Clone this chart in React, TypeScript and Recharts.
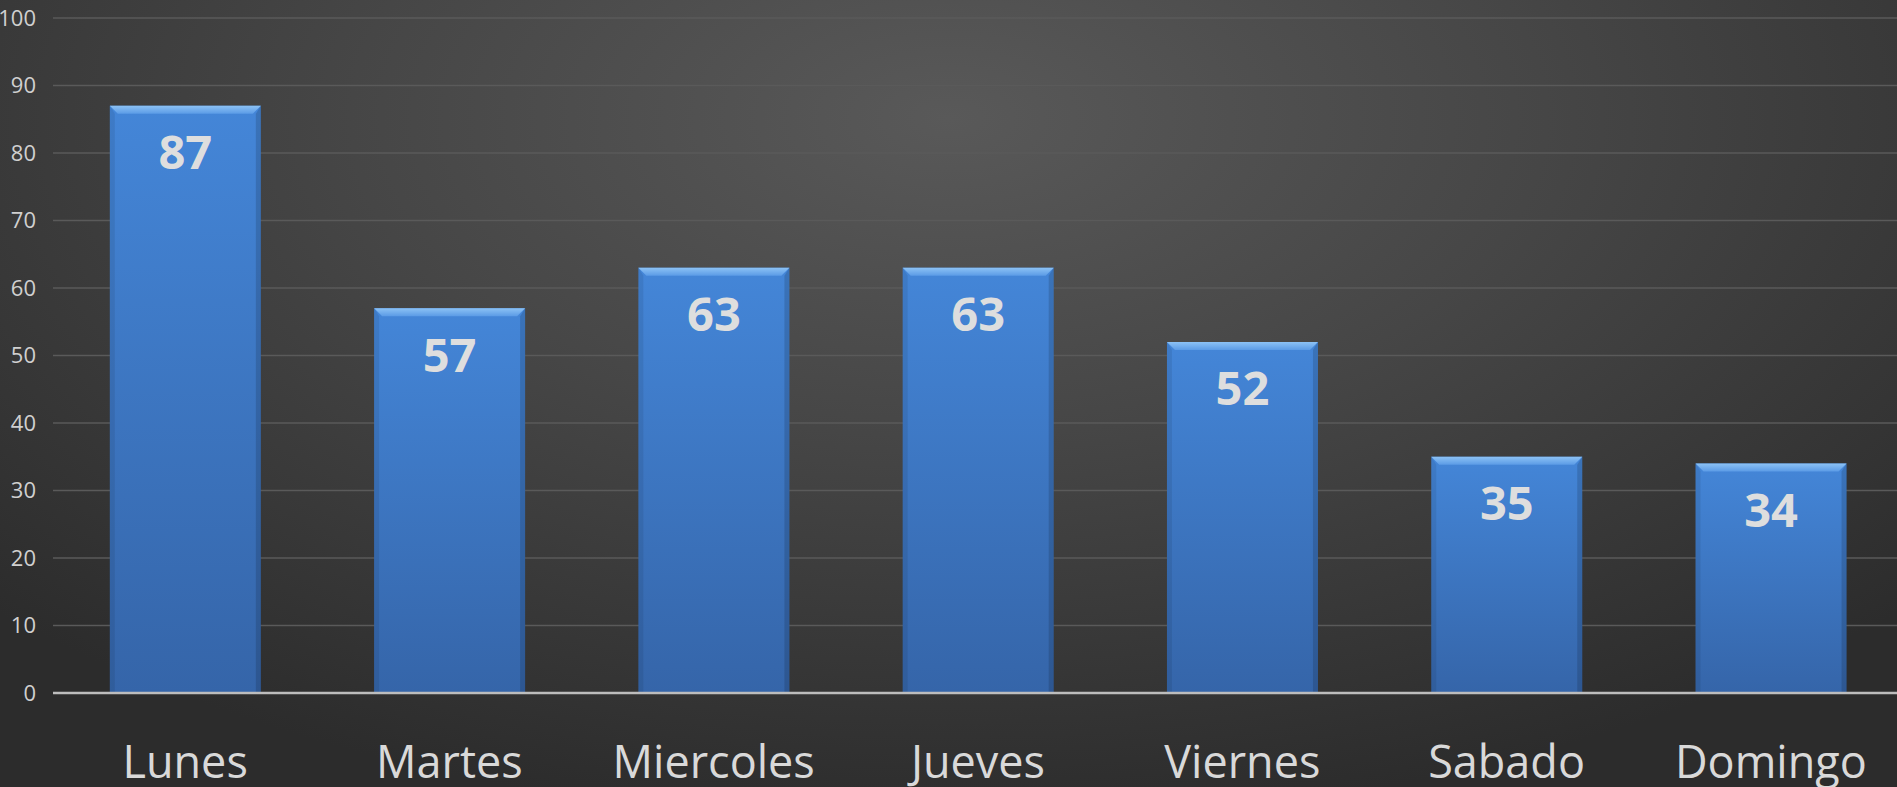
import { BarChart, Bar, XAxis, YAxis, CartesianGrid, LabelList } from "recharts";

const dias = ["Lunes", "Martes", "Miercoles", "Jueves", "Viernes", "Sabado", "Domingo"];
const valores = [87, 57, 63, 63, 52, 35, 34];
const yTicks = [0, 10, 20, 30, 40, 50, 60, 70, 80, 90, 100];

const data = dias.map((dia, i) => ({ dia, valor: valores[i] }));

const FONT = "'Open Sans', 'DejaVu Sans', sans-serif";

// bar with a bevelled top edge, like the Office 3D style
function BevelBar(props: any) {
  const { x, y, width, height } = props;
  if (!height || height <= 0) return null;
  const b = 8;
  const s = 5;
  return (
    <g>
      <rect x={x} y={y} width={width} height={height} fill="url(#barFill)" />
      <polygon
        points={`${x},${y} ${x + width},${y} ${x + width - b},${y + b} ${x + b},${y + b}`}
        fill="url(#bevelFill)"
      />
      <polygon
        points={`${x},${y} ${x + s},${y + b} ${x + s},${y + height} ${x},${y + height}`}
        fill="#000"
        fillOpacity={0.08}
      />
      <polygon
        points={`${x + width},${y} ${x + width - s},${y + b} ${x + width - s},${y + height} ${x + width},${y + height}`}
        fill="#000"
        fillOpacity={0.14}
      />
    </g>
  );
}

export default function App() {
  return (
    <div
      style={{
        width: 1897,
        height: 787,
        overflow: "hidden",
        background: "radial-gradient(ellipse 70% 90% at 50% 15%, #595959 0%, #464646 45%, #2c2c2c 100%)",
      }}
    >
      <style>{`body{margin:0;overflow:hidden}`}</style>
      <BarChart
        width={1903}
        height={787}
        data={data}
        margin={{ top: 18, right: 0, left: 0, bottom: 0 }}
        barCategoryGap="21.5%"
      >
        <defs>
          <linearGradient id="barFill" x1="0" y1="0" x2="0" y2="1">
            <stop offset="0%" stopColor="#4486d8" />
            <stop offset="100%" stopColor="#3565a9" />
          </linearGradient>
          <linearGradient id="bevelFill" x1="0" y1="0" x2="0" y2="1">
            <stop offset="0%" stopColor="#8cc2f5" />
            <stop offset="100%" stopColor="#5b9be6" />
          </linearGradient>
        </defs>
        <CartesianGrid vertical={false} stroke="#5a5a5a" strokeWidth={1.5} />
        <XAxis
          dataKey="dia"
          height={94}
          axisLine={{ stroke: "#bdbdbd", strokeWidth: 2.5 }}
          tickLine={false}
          tickSize={0}
          tickMargin={53}
          interval={0}
          tick={{ fill: "#d9d9d9", fontSize: 45, fontFamily: FONT }}
        />
        <YAxis
          width={53}
          domain={[0, 100]}
          ticks={yTicks}
          axisLine={false}
          tickLine={false}
          tickSize={0}
          tickMargin={17}
          tick={{ fill: "#d0d0d0", fontSize: 22, fontFamily: FONT }}
        />
        <Bar dataKey="valor" shape={<BevelBar />} isAnimationActive={false}>
          <LabelList
            dataKey="valor"
            position="insideTop"
            offset={30}
            fill="#dedede"
            fontSize={47}
            fontWeight={700}
            fontFamily={FONT}
          />
        </Bar>
      </BarChart>
    </div>
  );
}
